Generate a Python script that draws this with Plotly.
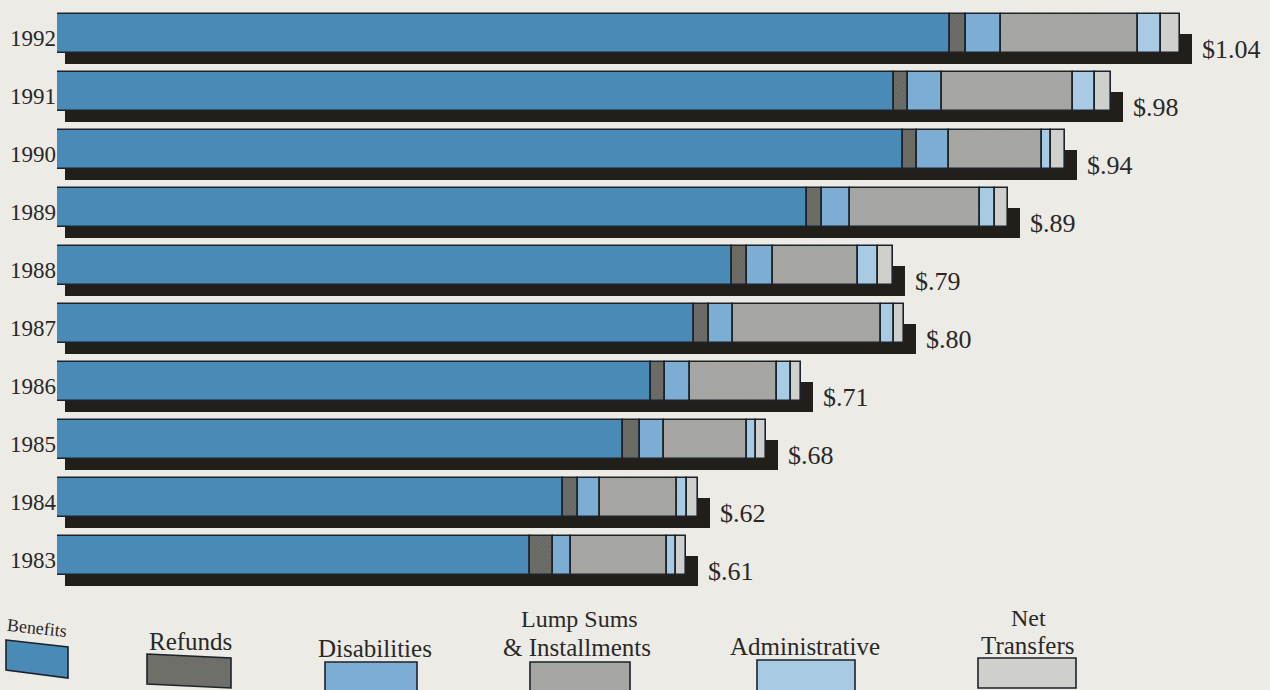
import numpy as np
import plotly.graph_objects as go

# ---- data (dollars) ----
YEARS = [1992, 1991, 1990, 1989, 1988, 1987, 1986, 1985, 1984, 1983]
TOTALS = [1.04, 0.98, 0.94, 0.89, 0.79, 0.80, 0.71, 0.68, 0.62, 0.61]
BENEFITS = [0.840, 0.791, 0.799, 0.715, 0.650, 0.617, 0.579, 0.555, 0.503, 0.474]
REFUNDS = [0.014, 0.012, 0.012, 0.013, 0.013, 0.013, 0.013, 0.015, 0.013, 0.020]
DISABILITIES = [0.030, 0.030, 0.028, 0.025, 0.023, 0.021, 0.021, 0.021, 0.019, 0.016]
LUMP_SUMS = [0.120, 0.114, 0.081, 0.113, 0.074, 0.129, 0.076, 0.072, 0.067, 0.083]
ADMINISTRATIVE = [0.020, 0.019, 0.008, 0.013, 0.017, 0.011, 0.012, 0.008, 0.009, 0.008]
NET_TRANSFERS = [0.016, 0.014, 0.012, 0.011, 0.013, 0.009, 0.009, 0.009, 0.009, 0.009]

SERIES_NAMES = ["Benefits", "Refunds", "Disabilities", "Lump Sums & Installments",
                "Administrative", "Net Transfers"]

# ---- styling ----
W, H = 1270, 690
PAPER = "#ecebe6"
INK = "#2a2826"
OUTLINE = "#1c232b"
SHADOW = "#221f1a"
FONT = "Liberation Serif"
COLORS = ["#4a8ab6", "#6f6f6a", "#7cadd3", "#a6a6a3", "#a8cbe3", "#cfcfcc"]

AXIS_START = 0.062          # value at the left edge of the bars (axis is truncated)
PX_PER_DOLLAR = 1148.0
PLOT_LEFT = 57              # pixel where the bars begin
PX_PER_ROW = 58.0
TOP_ROW_CENTER = 33.5       # pixel centre of the first (1992) bar
BAR_WIDTH = 0.665
SHADOW_DEPTH = 0.525        # shadow spans from bar centre to below the bar
SHADOW_INSET = 8 / PX_PER_DOLLAR
SHADOW_DX = 12 / PX_PER_DOLLAR

x_max = AXIS_START + (W - PLOT_LEFT) / PX_PER_DOLLAR
y_top = YEARS[0] + TOP_ROW_CENTER / PX_PER_ROW
y_bottom = y_top - H / PX_PER_ROW

segments = np.column_stack([BENEFITS, REFUNDS, DISABILITIES, LUMP_SUMS,
                            ADMINISTRATIVE, NET_TRANSFERS])
right_edges = np.cumsum(segments, axis=1)
left_edges = right_edges - segments
left_edges[:, 0] = AXIS_START

fig = go.Figure()

# drop shadow behind each bar
totals = np.array(TOTALS)
shadow_base = AXIS_START + SHADOW_INSET
fig.add_trace(go.Bar(
    y=YEARS, x=totals + SHADOW_DX - shadow_base, base=shadow_base,
    orientation="h", width=SHADOW_DEPTH, offset=-SHADOW_DEPTH,
    marker=dict(color=SHADOW, line=dict(width=0)),
    hoverinfo="skip", showlegend=False,
))

patterns = {
    1: dict(shape="x", size=3, solidity=0.35, fgcolor="#55554f", bgcolor=COLORS[1]),
    3: dict(shape="x", size=4, solidity=0.12, fgcolor="#8f8f8c", bgcolor=COLORS[3]),
}
for i, name in enumerate(SERIES_NAMES):
    marker = dict(color=COLORS[i], line=dict(color=OUTLINE, width=1.6))
    if i in patterns:
        marker["pattern"] = patterns[i]
    fig.add_trace(go.Bar(
        y=YEARS, x=right_edges[:, i] - left_edges[:, i], base=left_edges[:, i],
        orientation="h", width=BAR_WIDTH, name=name, marker=marker,
        showlegend=False,
    ))

# total labels at the end of each bar
def money(v):
    s = f"{v:.2f}"
    return "$" + (s[1:] if s.startswith("0") else s)

annotations = []
for year, total in zip(YEARS, TOTALS):
    annotations.append(dict(
        x=total, y=year, xref="x", yref="y", text=money(total),
        showarrow=False, xanchor="left", yanchor="middle",
        xshift=20, yshift=-16,
        font=dict(family=FONT, size=26, color=INK),
    ))

# ---- legend drawn below the bars ----
def fx(p):
    return p / W

def fy(p):
    return 1 - p / H

LEGEND_LABELS = [
    ("Benefits", 37, 628, 18, 6),
    ("Refunds", 190, 641, 25, 0),
    ("Disabilities", 375, 648, 25, 0),
    ("Lump Sums", 579, 619, 24, 0),
    ("& Installments", 577, 647, 25, 0),
    ("Administrative", 805, 646, 25, 0),
    ("Net", 1028, 618, 24, 0),
    ("Transfers", 1028, 645, 25, 0),
]
LEGEND_SWATCHES = [
    [(6, 640), (68, 647), (68, 678), (6, 670)],
    [(147, 654), (231, 658), (231, 688), (147, 684)],
    [(325, 662), (417, 662), (417, 700), (325, 700)],
    [(530, 662), (630, 662), (630, 700), (530, 700)],
    [(757, 660), (855, 660), (855, 700), (757, 700)],
    [(978, 658), (1076, 658), (1076, 688), (978, 688)],
]

for text, x, y, size, angle in LEGEND_LABELS:
    annotations.append(dict(
        x=fx(x), y=fy(y), xref="paper", yref="paper", text=text,
        showarrow=False, xanchor="center", yanchor="middle", textangle=angle,
        font=dict(family=FONT, size=size, color=INK),
    ))

shapes = []
for color, corners in zip(COLORS, LEGEND_SWATCHES):
    path = "M " + " L ".join(f"{fx(a):.5f},{fy(b):.5f}" for a, b in corners) + " Z"
    shapes.append(dict(type="path", path=path, xref="paper", yref="paper",
                       fillcolor=color, line=dict(color=OUTLINE, width=1.6),
                       layer="above"))

fig.update_layout(
    width=W, height=H,
    margin=dict(l=0, r=0, t=0, b=0),
    paper_bgcolor=PAPER, plot_bgcolor=PAPER,
    barmode="overlay",
    bargap=0,
    showlegend=False,
    annotations=annotations,
    shapes=shapes,
    xaxis=dict(range=[AXIS_START, x_max], domain=[PLOT_LEFT / W, 1],
               visible=False, fixedrange=True),
    yaxis=dict(range=[y_bottom, y_top], tickvals=YEARS,
               ticktext=[str(y) for y in YEARS],
               showgrid=False, zeroline=False, showline=False, ticks="",
               ticklabelshift=4, automargin=False,
               tickfont=dict(family=FONT, size=23, color=INK),
               fixedrange=True),
    font=dict(family=FONT, color=INK),
)

fig.write_html("out.html")
